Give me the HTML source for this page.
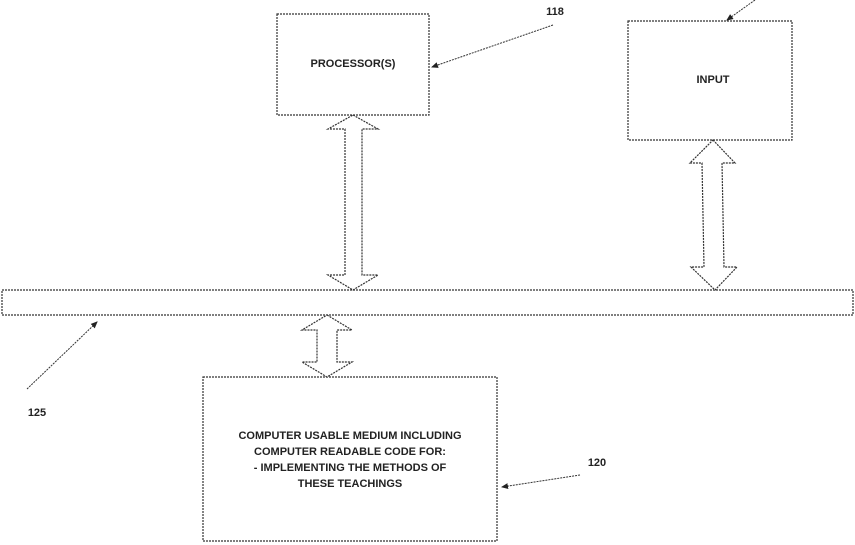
<!DOCTYPE html>
<html><head><meta charset="utf-8"><style>
body{margin:0;background:#fff}
svg{display:block}
text{font-family:"Liberation Sans",sans-serif;font-size:11px;font-weight:bold;fill:#222;text-anchor:middle}
</style></head><body>
<svg width="855" height="545" viewBox="0 0 855 545">
<defs><marker id="a" markerWidth="8" markerHeight="8" refX="6" refY="4" orient="auto"><path d="M0,1 L7,4 L0,7z" fill="#222"/></marker></defs>
<g fill="#fff" stroke="#333" stroke-width="1.2" stroke-dasharray="2,1">
<rect x="277" y="14" width="152" height="101"/>
<rect x="628" y="21" width="164" height="119"/>
<rect x="2" y="290" width="851" height="25"/>
<rect x="203" y="377" width="294" height="164"/>
<path d="M353,115 L378,129 L362,129 L362,275 L378,275 L353,290 L328,275 L345,275 L345,129 L328,129Z"/>
<path d="M713,140 L735,163 L722,163 L724,267 L737,267 L715,290 L691,267 L704,267 L702,163 L690,163Z"/>
<path d="M327,315 L352,330 L337,330 L337,362 L352,362 L327,377 L302,362 L317,362 L317,330 L302,330Z"/>
</g>
<g stroke="#333" stroke-width="1" stroke-dasharray="2,1" marker-end="url(#a)">
<line x1="553" y1="25" x2="432" y2="67"/>
<line x1="755" y1="0" x2="727" y2="20"/>
<line x1="27" y1="389" x2="97" y2="322"/>
<line x1="580" y1="475" x2="502" y2="487"/>
</g>
<text x="353" y="67">PROCESSOR(S)</text>
<text x="713" y="83">INPUT</text>
<text x="555" y="15">118</text>
<text x="37" y="416">125</text>
<text x="597" y="466">120</text>
<text x="350" y="439">COMPUTER USABLE MEDIUM INCLUDING</text>
<text x="350" y="455">COMPUTER READABLE CODE FOR:</text>
<text x="350" y="471">- IMPLEMENTING THE METHODS OF</text>
<text x="350" y="487">THESE TEACHINGS</text>
</svg>
</body></html>
